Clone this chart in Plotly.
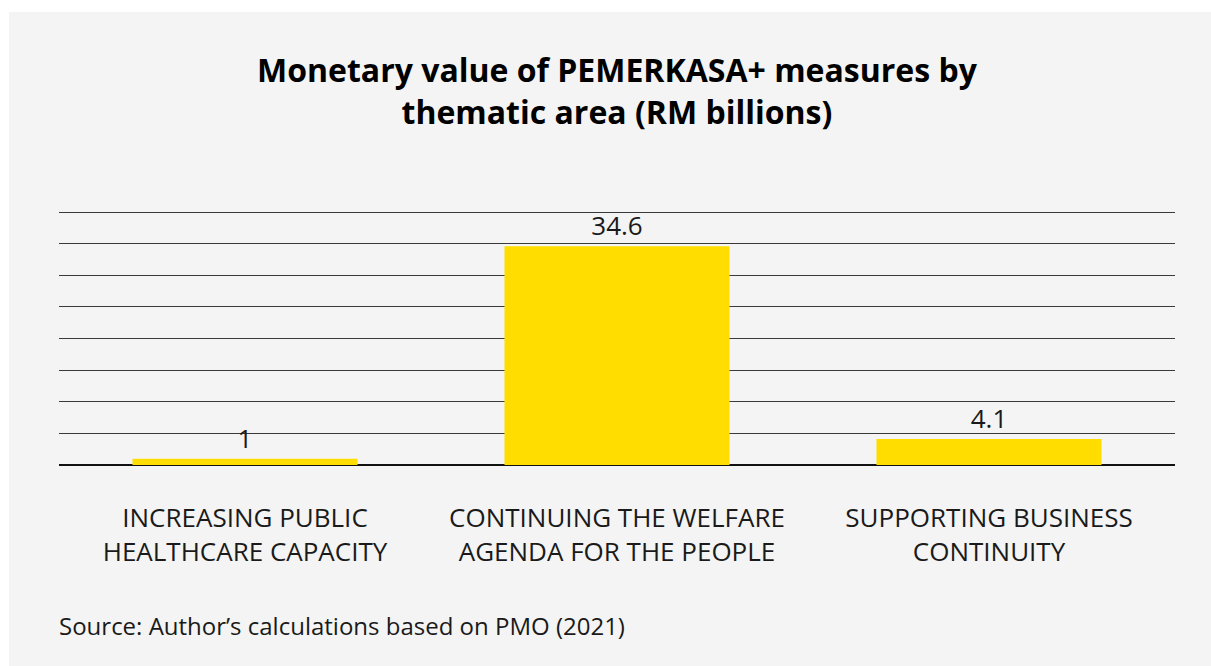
import plotly.graph_objects as go

categories = ["INCREASING PUBLIC<br>HEALTHCARE CAPACITY",
              "CONTINUING THE WELFARE<br>AGENDA FOR THE PEOPLE",
              "SUPPORTING BUSINESS<br>CONTINUITY"]
values = [1, 34.6, 4.1]
value_labels = ["1", "34.6", "4.1"]
y_ticks = [0, 5, 10, 15, 20, 25, 30, 35, 40]

W, H = 1211, 666
L, R, T, B = 59, 36, 209, 201
pw, ph = W - L - R, H - T - B

def px_x(p):
    return (p - L) / pw

def px_y(p):
    return (H - B - p) / ph

FONT = "Open Sans"
TXT = "#1a1a1a"

fig = go.Figure()
fig.add_trace(go.Bar(
    x=categories, y=values, text=value_labels, textposition="outside",
    textfont=dict(family=FONT, size=26, color=TXT),
    marker=dict(color="#ffdd00", line=dict(width=0)),
    cliponaxis=False, hoverinfo="skip",
))

fig.update_layout(
    width=W, height=H,
    margin=dict(l=L, r=R, t=T, b=B, pad=0),
    paper_bgcolor="white",
    plot_bgcolor="rgba(0,0,0,0)",
    bargap=0.395,
    showlegend=False,
    font=dict(family=FONT, color=TXT),
    xaxis=dict(showgrid=False, showline=False, zeroline=False, ticks="",
               tickfont=dict(family=FONT, size=26, color=TXT),
               ticklabelstandoff=35, fixedrange=True),
    yaxis=dict(range=[0, 40.5], tickvals=y_ticks, showticklabels=False,
               showgrid=True, gridcolor="#3a3a3a", gridwidth=1,
               zeroline=True, zerolinecolor="#111111", zerolinewidth=2,
               showline=False, ticks="", fixedrange=True),
    shapes=[dict(type="rect", xref="paper", yref="paper",
                 x0=px_x(9), x1=px_x(W + 5), y0=px_y(H + 5), y1=px_y(12),
                 fillcolor="#f4f4f4", line=dict(width=0), layer="below")],
    annotations=[
        dict(text="<b>Monetary value of PEMERKASA+ measures by<br>thematic area (RM billions)</b>",
             xref="paper", yref="paper", x=px_x(617), y=px_y(90),
             xanchor="center", yanchor="middle", showarrow=False,
             font=dict(family=FONT, size=32, color="#000000")),
        dict(text="Source: Author\u2019s calculations based on PMO (2021)",
             xref="paper", yref="paper", x=px_x(57), y=px_y(625),
             xanchor="left", yanchor="middle", showarrow=False,
             font=dict(family=FONT, size=24, color=TXT)),
    ],
)

fig.write_html("out.html", config={"displayModeBar": False})
